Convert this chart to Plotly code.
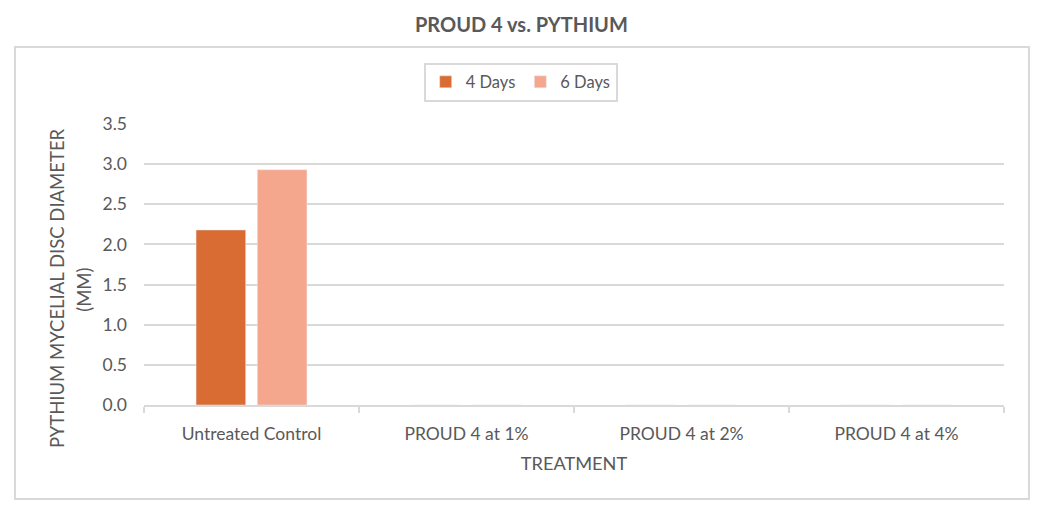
import plotly.graph_objects as go

categories = ["Untreated Control", "PROUD 4 at 1%", "PROUD 4 at 2%", "PROUD 4 at 4%"]
days4 = [2.18, 0, 0, 0]
days6 = [2.93, 0, 0, 0]
series_names = ["4 Days", "6 Days"]
colors = ["#D86C32", "#F5A78D"]
y_title_lines = ["PYTHIUM MYCELIAL DISC DIAMETER", "(MM)"]

fig = go.Figure()
fig.add_trace(go.Bar(x=categories, y=days4, name=series_names[0], marker_color=colors[0]))
fig.add_trace(go.Bar(x=categories, y=days6, name=series_names[1], marker_color=colors[1]))

gray = "#595959"
grid = "#D9D9D9"
font = "Lato, Open Sans, sans-serif"

fig.update_layout(
    width=1047, height=518,
    margin=dict(l=144, r=43, t=124, b=113),
    paper_bgcolor="white", plot_bgcolor="white",
    barmode="group", bargap=0.43, bargroupgap=0.19,
    font=dict(family=font, color=gray, size=17),
    title=dict(text="<b>PROUD 4 vs. PYTHIUM</b>", x=0.498, xanchor="center", y=0.952, yanchor="middle",
               font=dict(size=20, color=gray, family=font)),
    legend=dict(orientation="h", x=0.438, xanchor="center", y=1.149, yanchor="middle",
                bordercolor=grid, borderwidth=2, bgcolor="white",
                font=dict(size=16.5, color=gray, family=font), itemwidth=30,
                traceorder="normal"),
    xaxis=dict(showline=True, linecolor=grid, linewidth=2, ticks="outside", tickson="boundaries",
               ticklen=6, tickcolor=grid, tickwidth=2, showgrid=False, ticklabelstandoff=12,
               tickfont=dict(size=17.5, color=gray, family=font),
               title=dict(text="TREATMENT", font=dict(size=18.2, color=gray, family=font), standoff=14)),
    yaxis=dict(range=[0, 3.5], dtick=0.5, tickformat=".1f", showgrid=True, gridcolor=grid, gridwidth=2,
               zeroline=False, showline=False, ticks="", ticklabelstandoff=16,
               tickfont=dict(size=17.5, color=gray, family=font)),
    annotations=[
        dict(text=y_title_lines[0], textangle=-90, xref="paper", yref="paper",
             x=(57 - 144) / 860, y=0.416, xanchor="center", yanchor="middle",
             showarrow=False, font=dict(size=18.5, color=gray, family=font)),
        dict(text=y_title_lines[1], textangle=-90, xref="paper", yref="paper",
             x=(84 - 144) / 860, y=0.41, xanchor="center", yanchor="middle",
             showarrow=False, font=dict(size=18.5, color=gray, family=font)),
    ],
    shapes=[dict(type="rect", xref="paper", yref="paper", x0=-0.15, x1=1.029, y0=-0.3345, y1=1.274,
                 line=dict(color=grid, width=2), layer="below")],
)

fig.write_html("out.html")
